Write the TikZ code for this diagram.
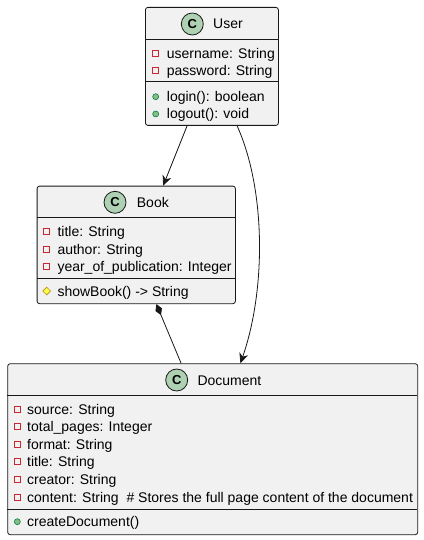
\documentclass[tikz,border=0pt]{standalone}
\usepackage{fontspec}
\setmainfont{Liberation Sans}
\usetikzlibrary{arrows.meta,shapes.geometric}
\definecolor{boxfill}{HTML}{F1F1F1}
\definecolor{boxline}{HTML}{181818}
\definecolor{cfill}{HTML}{ADD1B2}
\definecolor{privred}{HTML}{C82930}
\definecolor{pubfill}{HTML}{84BE84}
\definecolor{publine}{HTML}{038048}
\definecolor{protfill}{HTML}{FFFF44}
\definecolor{protline}{HTML}{B38D22}
\begin{document}
\begin{tikzpicture}[x=1pt,y=-1pt,
  classbox/.style={draw=boxline,fill=boxfill,line width=0.8pt,rounded corners=2.5pt,anchor=north west,inner sep=0pt},
  sepline/.style={draw=boxline,line width=0.8pt},
  cicon/.style={circle,draw=boxline,fill=cfill,line width=0.8pt,minimum size=22pt,inner sep=0pt,font=\fontsize{13}{13}\selectfont\bfseries},
  title/.style={anchor=base west,inner sep=0pt,font=\fontsize{14}{16}\selectfont},
  attr/.style={anchor=base west,inner sep=0pt,font=\fontsize{14}{16}\selectfont},
  privicon/.style={rectangle,draw=privred,line width=0.8pt,minimum size=6pt,inner sep=0pt},
  pubicon/.style={circle,draw=publine,fill=pubfill,line width=0.6pt,minimum size=6pt,inner sep=0pt},
  proticon/.style={diamond,draw=protline,fill=protfill,line width=0.6pt,minimum size=8pt,inner sep=0pt},
  conn/.style={draw=boxline,line width=0.8pt},
  arr/.style={conn,-{Stealth[length=10pt,width=9pt,inset=3pt]}},
  comp/.style={conn,{Diamond[length=12pt,width=7pt,fill=boxline]}-}
]
\useasboundingbox (0,0) rectangle (423,540);

% ---------- User ----------
\node[classbox,minimum width=133pt,minimum height=118pt] (user) at (145,7) {};
\draw[sepline] (145,39.5) -- (278,39.5);
\draw[sepline] (145,81.7) -- (278,81.7);
\node[cicon] (userc) at (192.3,24) {C};
\node[title] (usert) at (213,29) {User};
\node[privicon] (ui1) at (155.7,53.3) {};
\node[attr] (ua1) at (166.7,58.3) {username: String};
\node[privicon] (ui2) at (155.7,70.7) {};
\node[attr] (ua2) at (166.7,75.7) {password: String};
\node[pubicon] (ui3) at (155.7,96.7) {};
\node[attr] (ua3) at (166.7,101.7) {login(): boolean};
\node[pubicon] (ui4) at (155.7,114) {};
\node[attr] (ua4) at (166.7,119) {logout(): void};

% ---------- Book ----------
\node[classbox,minimum width=198.3pt,minimum height=117.6pt] (book) at (36.7,185.7) {};
\draw[sepline] (36.7,217.7) -- (235,217.7);
\draw[sepline] (36.7,278.3) -- (235,278.3);
\node[cicon] (bookc) at (115,202.3) {C};
\node[title] (bookt) at (136.7,207.3) {Book};
\node[privicon] (bi1) at (46.7,231.7) {};
\node[attr] (ba1) at (57.3,236.7) {title: String};
\node[privicon] (bi2) at (46.7,249) {};
\node[attr] (ba2) at (57.3,254) {author: String};
\node[privicon] (bi3) at (46.7,266.7) {};
\node[attr] (ba3) at (57.3,271.7) {year\_of\_publication: Integer};
\node[proticon] (bi4) at (46.7,291) {};
\node[attr] (ba4) at (57.3,296) {showBook() -> String};

% ---------- Document ----------
\node[classbox,minimum width=410pt,minimum height=171pt] (doc) at (7.3,363.3) {};
\draw[sepline] (7.3,395.7) -- (417.3,395.7);
\draw[sepline] (7.3,509) -- (417.3,509);
\node[cicon] (docc) at (176.7,380) {C};
\node[title] (doct) at (197.3,385) {Document};
\node[privicon] (di1) at (17.3,409) {};
\node[attr] (da1) at (27,414) {source: String};
\node[privicon] (di2) at (17.3,426.7) {};
\node[attr] (da2) at (27,431.7) {total\_pages: Integer};
\node[privicon] (di3) at (17.3,444.3) {};
\node[attr] (da3) at (27,449.3) {format: String};
\node[privicon] (di4) at (17.3,461.7) {};
\node[attr] (da4) at (27,466.7) {title: String};
\node[privicon] (di5) at (17.3,479.3) {};
\node[attr] (da5) at (27,484.3) {creator: String};
\node[privicon] (di6) at (17.3,497.3) {};
\node[attr] (da6) at (27,502.3) {content: String\ \ \# Stores the full page content of the document};
\node[pubicon] (di7) at (17.3,521.7) {};
\node[attr] (da7) at (27,526.7) {createDocument()};

% ---------- connectors ----------
\draw[arr] ([xshift=-24.8pt]user.south) -- ([xshift=26.9pt]book.north);
\draw[arr] ([xshift=25.2pt]user.south) .. controls (266,190) and (266,290) .. ([xshift=27.7pt]doc.north);
\draw[comp] ([xshift=20.15pt]book.south) -- ([xshift=-31.6pt]doc.north);
\end{tikzpicture}
\end{document}
